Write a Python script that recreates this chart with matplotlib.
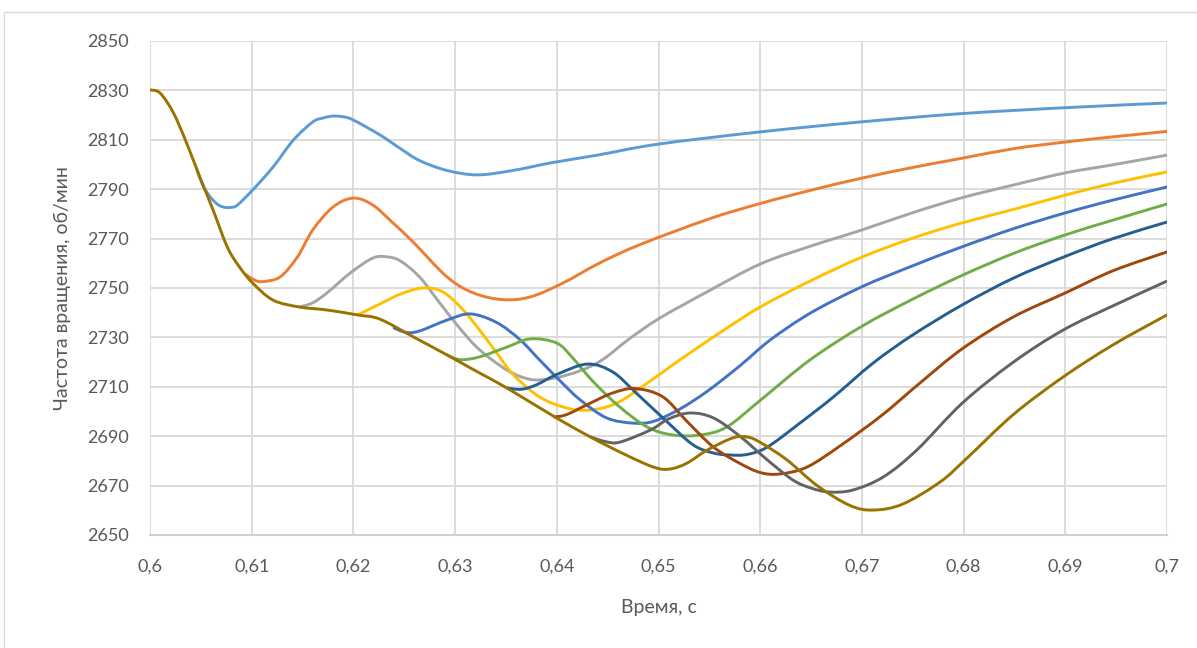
import matplotlib
matplotlib.use("Agg")
import matplotlib.pyplot as plt
from matplotlib.patches import Rectangle, PathPatch
from matplotlib.path import Path

# ---------------- data ----------------
x_lightblue = [0.6046, 0.6052, 0.6059, 0.6066, 0.6072, 0.6079, 0.6086, 0.6101, 0.6121, 0.6141, 0.6160, 0.6170,
               0.6180, 0.6190, 0.6200, 0.6226, 0.6246, 0.6265, 0.6292, 0.6322, 0.6357, 0.6396, 0.6440,
               0.6499, 0.6600, 0.6698, 0.6798, 0.6900, 0.7000]
y_lightblue = [2798.0, 2791.5, 2787.0, 2784.0, 2782.8, 2782.6, 2783.6, 2789.7, 2799.0, 2809.9, 2817.2, 2818.8,
               2819.6, 2819.3, 2818.0, 2812.0, 2806.5, 2801.6, 2797.6, 2795.8, 2797.6, 2800.8, 2803.8,
               2808.2, 2813.2, 2817.2, 2820.6, 2823.0, 2824.9]

x_orange = [0.6094, 0.6103, 0.6111, 0.6128, 0.6145, 0.6160, 0.6180, 0.6200, 0.6219, 0.6239, 0.6259, 0.6292,
            0.6318, 0.6347, 0.6374, 0.6406, 0.6442, 0.6482, 0.6550, 0.6600, 0.6650, 0.6698, 0.6750,
            0.6798, 0.6849, 0.6900, 0.6947, 0.7000]
y_orange = [2755.5, 2753.2, 2752.6, 2754.5, 2762.6, 2773.5, 2782.8, 2786.4, 2783.6, 2776.3, 2768.5, 2754.5,
            2748.0, 2745.3, 2746.4, 2752.0, 2760.1, 2767.6, 2778.0, 2784.2, 2789.6, 2794.3, 2798.8,
            2802.5, 2806.4, 2809.1, 2811.2, 2813.4]

x_gray = [0.6147, 0.6160, 0.6174, 0.6197, 0.6219, 0.6233, 0.6246, 0.6265, 0.6285, 0.6305, 0.6324, 0.6351,
          0.6374, 0.6396, 0.6423, 0.6445, 0.6470, 0.6500, 0.6548, 0.6600, 0.6650, 0.6700, 0.6750,
          0.6798, 0.6849, 0.6900, 0.6947, 0.7000]
y_gray = [2742.3, 2744.0, 2748.0, 2756.1, 2762.1, 2762.6, 2761.0, 2754.5, 2743.9, 2733.5, 2725.0, 2716.8,
          2713.0, 2713.4, 2716.5, 2721.0, 2729.0, 2737.5, 2748.5, 2759.7, 2767.0, 2773.5, 2780.5,
          2786.5, 2791.7, 2796.6, 2799.9, 2803.8]

x_yellow = [0.6204, 0.6226, 0.6246, 0.6268, 0.6288, 0.6308, 0.6324, 0.6341, 0.6357, 0.6383, 0.6410,
            0.6433, 0.6459, 0.6489, 0.6521, 0.6560, 0.6600, 0.6650, 0.6700, 0.6750, 0.6798, 0.6849,
            0.6900, 0.6947, 0.7000]
y_yellow = [2739.1, 2743.5, 2747.5, 2750.0, 2748.4, 2741.1, 2733.0, 2723.7, 2715.0, 2705.9, 2701.4,
            2700.6, 2703.4, 2711.5, 2720.9, 2731.8, 2742.3, 2753.0, 2762.5, 2770.2, 2776.3, 2781.8,
            2787.6, 2792.4, 2797.0]

x_blue = [0.6240, 0.6252, 0.6265, 0.6292, 0.6315, 0.6341, 0.6364, 0.6383, 0.6403, 0.6423, 0.6449, 0.6475,
          0.6495, 0.6521, 0.6548, 0.6580, 0.6610, 0.6650, 0.6700, 0.6750, 0.6798, 0.6849, 0.6900,
          0.6947, 0.7000]
y_blue = [2733.8, 2732.0, 2732.6, 2737.0, 2739.5, 2736.0, 2729.0, 2720.9, 2712.5, 2704.7, 2697.4, 2695.3,
          2696.0, 2701.0, 2708.2, 2718.5, 2729.0, 2740.0, 2750.5, 2759.0, 2766.6, 2774.0, 2780.4,
          2785.6, 2790.9]

x_green = [0.6292, 0.6305, 0.6324, 0.6351, 0.6374, 0.6400, 0.6416, 0.6436, 0.6462, 0.6489, 0.6514, 0.6541,
           0.6567, 0.6600, 0.6649, 0.6700, 0.6750, 0.6798, 0.6849, 0.6900, 0.6947, 0.7000]
y_green = [2722.9, 2721.0, 2722.1, 2726.1, 2729.4, 2727.7, 2721.5, 2712.0, 2701.8, 2693.7, 2690.5, 2690.5,
           2693.7, 2704.5, 2720.9, 2734.5, 2745.5, 2755.0, 2764.0, 2771.5, 2777.5, 2784.0]

x_darkblue = [0.6351, 0.6365, 0.6380, 0.6400, 0.6430, 0.6455, 0.6478, 0.6508, 0.6534, 0.6554, 0.6570, 0.6587,
              0.6607, 0.6639, 0.6672, 0.6711, 0.6750, 0.6798, 0.6849, 0.6900, 0.6947, 0.7000]
y_darkblue = [2709.5, 2709.0, 2710.8, 2715.0, 2719.2, 2716.0, 2707.5, 2696.0, 2686.5, 2683.2, 2682.4, 2682.6,
              2685.6, 2695.3, 2705.9, 2719.6, 2731.0, 2743.0, 2754.0, 2762.8, 2770.0, 2776.7]

x_brown = [0.6398, 0.6410, 0.6433, 0.6455, 0.6477, 0.6504, 0.6528, 0.6554, 0.6580, 0.6600, 0.6619, 0.6646,
           0.6680, 0.6720, 0.6757, 0.6799, 0.6849, 0.6900, 0.6947, 0.7000]
y_brown = [2697.8, 2698.8, 2703.4, 2707.5, 2709.3, 2706.0, 2696.0, 2685.6, 2679.0, 2675.3, 2674.7, 2677.5,
           2686.5, 2698.6, 2711.5, 2725.5, 2738.3, 2748.0, 2757.0, 2764.6]

x_darkgray = [0.6433, 0.6448, 0.6462, 0.6492, 0.6510, 0.6531, 0.6554, 0.6580, 0.6607, 0.6632, 0.6650, 0.6668,
              0.6691, 0.6721, 0.6754, 0.6799, 0.6849, 0.6898, 0.6947, 0.7000]
y_darkgray = [2689.7, 2687.8, 2687.6, 2692.5, 2697.0, 2699.4, 2697.4, 2690.0, 2680.4, 2672.3, 2669.0, 2667.4,
              2668.2, 2673.5, 2684.4, 2703.5, 2720.0, 2733.0, 2742.8, 2752.8]

x_olive = [0.6000, 0.6010, 0.6023, 0.6036, 0.6049, 0.6062, 0.6076, 0.6088, 0.6101, 0.6121, 0.6147,
           0.6174, 0.6204, 0.6226, 0.6259, 0.6292, 0.6324, 0.6351, 0.6398, 0.6433, 0.6465, 0.6495,
           0.6511, 0.6528, 0.6548, 0.6573, 0.6587, 0.6600, 0.6626, 0.6656, 0.6688, 0.6711, 0.6740,
           0.6777, 0.6803, 0.6849, 0.6898, 0.6947, 0.7000]
y_olive = [2830.2, 2828.9, 2820.9, 2808.7, 2794.9, 2781.6, 2766.6, 2758.5, 2752.0, 2745.1, 2742.3,
           2741.1, 2739.1, 2737.4, 2730.2, 2722.9, 2715.6, 2709.5, 2697.8, 2689.7, 2683.0, 2677.5,
           2676.7, 2679.1, 2684.4, 2689.3, 2689.7, 2687.5, 2680.5, 2670.0, 2662.0, 2660.1, 2662.5,
           2671.5, 2681.0, 2698.8, 2714.0, 2727.0, 2739.1]

series = [
    (x_lightblue, y_lightblue, "#5B9BD5"),
    (x_orange, y_orange, "#ED7D31"),
    (x_gray, y_gray, "#A5A5A5"),
    (x_yellow, y_yellow, "#FFC000"),
    (x_blue, y_blue, "#4472C4"),
    (x_green, y_green, "#70AD47"),
    (x_darkblue, y_darkblue, "#255E91"),
    (x_brown, y_brown, "#9E480E"),
    (x_darkgray, y_darkgray, "#636363"),
    (x_olive, y_olive, "#997300"),
]

x_ticks = [0.60, 0.61, 0.62, 0.63, 0.64, 0.65, 0.66, 0.67, 0.68, 0.69, 0.70]
x_ticklabels = ["0,6", "0,61", "0,62", "0,63", "0,64", "0,65", "0,66", "0,67", "0,68", "0,69", "0,7"]
y_ticks = [2650, 2670, 2690, 2710, 2730, 2750, 2770, 2790, 2810, 2830, 2850]

x_title = "Время, с"
y_title = "Частота вращения, об/мин"


def smooth_path(xs, ys):
    """Excel-style smoothed line: Bezier segments through the given points."""
    pts = list(zip(xs, ys))
    n = len(pts)
    verts = [pts[0]]
    codes = [Path.MOVETO]
    for i in range(n - 1):
        p0 = pts[i - 1] if i > 0 else pts[i]
        p1 = pts[i]
        p2 = pts[i + 1]
        p3 = pts[i + 2] if i + 2 < n else pts[i + 1]
        c1 = (p1[0] + (p2[0] - p0[0]) / 6.0, p1[1] + (p2[1] - p0[1]) / 6.0)
        c2 = (p2[0] - (p3[0] - p1[0]) / 6.0, p2[1] - (p3[1] - p1[1]) / 6.0)
        verts += [c1, c2, p2]
        codes += [Path.CURVE4, Path.CURVE4, Path.CURVE4]
    return Path(verts, codes)


# ---------------- figure ----------------
W, H = 1197, 648
fig = plt.figure(figsize=(W / 100, H / 100), dpi=100)
fig.patch.set_facecolor("white")

# outer chart frame
fig.add_artist(Rectangle((4 / W, -0.05), 1.2, 1 - 12 / H + 0.05, transform=fig.transFigure,
                         fill=False, edgecolor="#D9D9D9", linewidth=1.0))

left, right, top, bottom = 150, 1167, 41, 535
ax = fig.add_axes([left / W, 1 - bottom / H, (right - left) / W, (bottom - top) / H])

for xs, ys, c in series:
    ax.add_patch(PathPatch(smooth_path(xs, ys), facecolor="none", edgecolor=c, linewidth=2.1,
                           capstyle="round", joinstyle="round", zorder=3))

ax.set_xlim(0.6, 0.7)
ax.set_ylim(2650, 2850)
ax.set_xticks(x_ticks)
ax.set_xticklabels(x_ticklabels)
ax.set_yticks(y_ticks)

font = ["Lato", "DejaVu Sans"]
tick_color = "#595959"
ax.tick_params(axis="both", length=0, labelsize=13, labelcolor=tick_color)
ax.tick_params(axis="y", pad=15)
ax.tick_params(axis="x", pad=17)
for lab in ax.get_xticklabels() + ax.get_yticklabels():
    lab.set_family(font)

ax.grid(True, color="#D9D9D9", linewidth=1.3, zorder=0)
ax.set_axisbelow(True)
for s in ["top", "right", "left"]:
    ax.spines[s].set_visible(False)
ax.spines["bottom"].set_color("#D0D0D0")
ax.spines["bottom"].set_linewidth(1.5)

ax.set_xlabel(x_title, fontsize=14, color=tick_color, family=font)
ax.set_ylabel(y_title, fontsize=14, color=tick_color, family=font)
ax.xaxis.set_label_coords(0.5, (bottom - 607) / (bottom - top))
ax.xaxis.label.set_va("center")
ax.yaxis.set_label_coords((62 - left) / (right - left), 0.5)
ax.yaxis.label.set_va("center")

fig.savefig("out.png", dpi=100)
